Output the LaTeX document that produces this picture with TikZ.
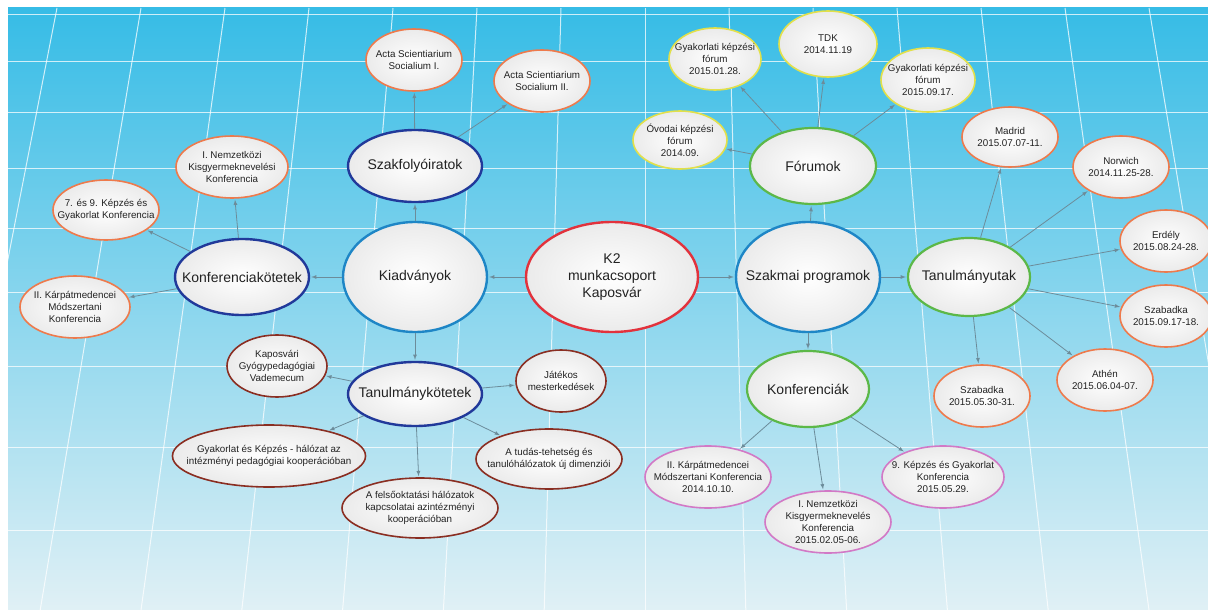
\documentclass[tikz,border=0pt]{standalone}
\usepackage{fontspec}
\setmainfont{Liberation Sans}
\usetikzlibrary{arrows,shapes,calc}
\definecolor{rootred}{HTML}{E2323C}
\definecolor{hubblue}{HTML}{1E86C6}
\definecolor{navy}{HTML}{21399A}
\definecolor{hubgreen}{HTML}{5CB848}
\definecolor{leaforange}{HTML}{EE7A4C}
\definecolor{leafyellow}{HTML}{E2E04A}
\definecolor{leafpink}{HTML}{D279C6}
\definecolor{leafbrown}{HTML}{8A2E22}
\definecolor{arrowgray}{HTML}{6C8C9A}
\definecolor{skytop}{HTML}{36BCE6}
\definecolor{skymid}{HTML}{80CDE6}
\definecolor{skybottom}{HTML}{E0F0F5}
\definecolor{txt}{HTML}{222222}

\begin{document}
\begin{tikzpicture}[x=1pt,y={(0,-1pt)}]
\tikzstyle{main}=[ellipse, draw, inner sep=0pt, align=center, text=txt, inner color=white, outer color=gray!16]
\tikzstyle{big}=[main, inner xsep=-25pt, font=\fontsize{14}{17}\selectfont]
\tikzstyle{root}=[big, line width=2.4pt, draw=rootred, inner xsep=0pt]
\tikzstyle{hub}=[big, line width=2.4pt, draw=hubblue]
\tikzstyle{sub}=[big, line width=2.4pt, draw=navy]
\tikzstyle{prog}=[big, line width=2.2pt, draw=hubgreen]
\tikzstyle{leaf}=[main, inner xsep=-14pt, inner ysep=-4pt, line width=1.6pt, draw=leaforange, font=\fontsize{9.8}{11.8}\selectfont]
\tikzstyle{forumleaf}=[leaf, draw=leafyellow]
\tikzstyle{confleaf}=[leaf, draw=leafpink]
\tikzstyle{bookleaf}=[leaf, draw=leafbrown]
\tikzstyle{connect}=[-latex, line width=0.8pt, draw=arrowgray, shorten >=1pt]
\tikzstyle{gridline}=[draw=white, line width=1pt, opacity=0.75]

  \useasboundingbox (0,0) rectangle (1208,610);
  \fill[white] (0,0) rectangle (1208,610);
  \shade[top color=skytop, middle color=skymid, bottom color=skybottom] (8,8) rectangle (1208,610);
  \begin{scope}
    \clip (8,8) rectangle (1208,610);
    \foreach \h in {15,62,112,168,228,292,366,447,530}
      \draw[gridline] (8,\h) -- (1208,\h);
    \foreach \k in {-8,...,7}
      \draw[gridline] ({645+84*\k},8) -- ({645+84*\k*1.2},610);
  \end{scope}

  \node[root] (K2)    at (612,277) [minimum width=172pt, minimum height=110pt] {K2\\munkacsoport\\Kaposvár};
  \node[hub]  (kiad)  at (415,277) [minimum width=144pt, minimum height=110pt] {Kiadványok};
  \node[hub]  (szakm) at (808,277) [minimum width=144pt, minimum height=110pt] {Szakmai programok};

  \node[sub]  (konfk) at (242,277) [minimum width=134pt, minimum height=76pt] {Konferenciakötetek};
  \node[sub]  (szakf) at (415,166) [minimum width=134pt, minimum height=72pt] {Szakfolyóiratok};
  \node[sub]  (tank)  at (415,394) [minimum width=134pt, minimum height=64pt] {Tanulmánykötetek};

  \node[prog] (forum) at (813,166) [minimum width=126pt, minimum height=76pt] {Fórumok};
  \node[prog] (konf)  at (808,389) [minimum width=122pt, minimum height=76pt] {Konferenciák};
  \node[prog] (tanut) at (969,277) [minimum width=122pt, minimum height=78pt] {Tanulmányutak};

  \node[leaf] (nemzk) at (232,167) [minimum width=112pt, minimum height=62pt] {I. Nemzetközi\\Kisgyermeknevelési\\Konferencia};
  \node[leaf] (kepzk) at (106,210) [minimum width=106pt, minimum height=60pt] {7. és 9. Képzés és\\Gyakorlat Konferencia};
  \node[leaf] (karpk) at (75,307)  [minimum width=110pt, minimum height=62pt] {II. Kárpátmedencei\\Módszertani\\Konferencia};

  \node[leaf] (acta1) at (414,60) [minimum width=96pt, minimum height=62pt] {Acta Scientiarium\\Socialium I.};
  \node[leaf] (acta2) at (542,81) [minimum width=96pt, minimum height=62pt] {Acta Scientiarium\\Socialium II.};

  \node[forumleaf] (ovodai) at (680,140) [minimum width=94pt, minimum height=58pt] {Óvodai képzési\\fórum\\2014.09.};
  \node[forumleaf] (gyakf1) at (715,59)  [minimum width=92pt, minimum height=62pt] {Gyakorlati képzési\\fórum\\2015.01.28.};
  \node[forumleaf] (tdk)    at (828,44)  [minimum width=98pt, minimum height=66pt] {TDK\\2014.11.19};
  \node[forumleaf] (gyakf2) at (928,80)  [minimum width=94pt, minimum height=64pt] {Gyakorlati képzési\\fórum\\2015.09.17.};

  \node[leaf] (madrid)  at (1010,137) [minimum width=96pt, minimum height=60pt] {Madrid\\2015.07.07-11.};
  \node[leaf] (norwich) at (1121,167) [minimum width=96pt, minimum height=62pt] {Norwich\\2014.11.25-28.};
  \node[leaf] (erdely)  at (1166,241) [minimum width=92pt, minimum height=62pt] {Erdély\\2015.08.24-28.};
  \node[leaf] (szabv)   at (1166,316) [minimum width=92pt, minimum height=62pt] {Szabadka\\2015.09.17-18.};
  \node[leaf] (athen)   at (1105,380) [minimum width=96pt, minimum height=62pt] {Athén\\2015.06.04-07.};
  \node[leaf] (szabm)   at (982,396)  [minimum width=96pt, minimum height=62pt] {Szabadka\\2015.05.30-31.};

  \node[confleaf] (karpc) at (708,477) [minimum width=126pt, minimum height=62pt] {II. Kárpátmedencei\\Módszertani Konferencia\\2014.10.10.};
  \node[confleaf] (nemzc) at (828,522) [minimum width=126pt, minimum height=62pt] {I. Nemzetközi\\Kisgyermeknevelés\\Konferencia\\2015.02.05-06.};
  \node[confleaf] (kepzc) at (943,477) [minimum width=122pt, minimum height=62pt] {9. Képzés és Gyakorlat\\Konferencia\\2015.05.29.};

  \node[bookleaf] (vadem) at (277,366) [minimum width=100pt, minimum height=62pt] {Kaposvári\\Gyógypedagógiai\\Vademecum};
  \node[bookleaf] (jatek) at (561,381) [minimum width=90pt, minimum height=62pt] {Játékos\\mesterkedések};
  \node[bookleaf] (gyakh) at (269,456) [minimum width=188pt, minimum height=62pt] {Gyakorlat és Képzés - hálózat az\\intézményi pedagógiai kooperációban};
  \node[bookleaf] (tudas) at (549,459) [minimum width=146pt, minimum height=60pt] {A tudás-tehetség és\\tanulóhálózatok új dimenziói};
  \node[bookleaf] (felso) at (420,508) [minimum width=156pt, minimum height=60pt] {A felsőoktatási hálózatok\\kapcsolatai azintézményi\\kooperációban};

  \path (K2) edge [connect] (kiad);
  \path (K2) edge [connect] (szakm);

  \path (kiad) edge [connect] (konfk);
  \path (kiad) edge [connect] (szakf);
  \path (kiad) edge [connect] (tank);
  \path (szakm) edge [connect] (forum);
  \path (szakm) edge [connect] (tanut);
  \path (szakm) edge [connect] (konf);

  \path (konfk) edge [connect] (nemzk);
  \path (konfk) edge [connect] (kepzk);
  \path (konfk) edge [connect] (karpk);
  \path (szakf) edge [connect] (acta1);
  \path (szakf) edge [connect] (acta2);

  \path (tank) edge [connect] (vadem);
  \path (tank) edge [connect] (jatek);
  \path (tank) edge [connect] (gyakh);
  \path (tank) edge [connect] (felso);
  \path (tank) edge [connect] (tudas);

  \path (forum) edge [connect] (ovodai);
  \path (forum) edge [connect] (gyakf1);
  \path (forum) edge [connect] (tdk);
  \path (forum) edge [connect] (gyakf2);

  \path (tanut) edge [connect] (madrid);
  \path (tanut) edge [connect] (norwich);
  \path (tanut) edge [connect] (erdely);
  \path (tanut) edge [connect] (szabv);
  \path (tanut) edge [connect] (athen);
  \path (tanut) edge [connect] (szabm);

  \path (konf) edge [connect] (karpc);
  \path (konf) edge [connect] (nemzc);
  \path (konf) edge [connect] (kepzc);

\end{tikzpicture}
\end{document}
